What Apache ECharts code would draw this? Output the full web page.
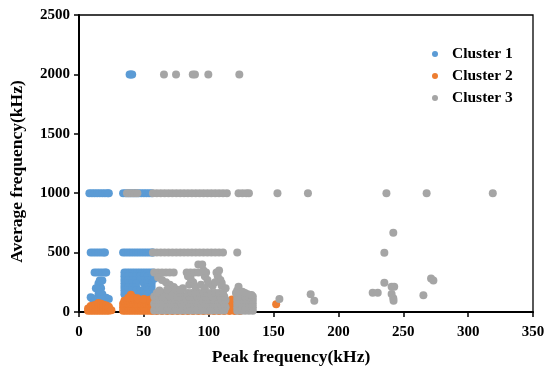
<!DOCTYPE html>
<html><head><meta charset="utf-8">
<script src="https://cdn.jsdelivr.net/npm/echarts@6/dist/echarts.min.js"></script>
<style>html,body{margin:0;padding:0;background:#fff}#c{width:550px;height:375px}</style>
</head><body><div id="c"></div>
<script>
const seriesNames = ['Cluster 1', 'Cluster 2', 'Cluster 3'];
const seriesColors = ['#5B9BD5', '#ED7D31', '#A5A5A5'];
const xTicks = [0, 50, 100, 150, 200, 250, 300, 350];
const yTicks = [0, 500, 1000, 1500, 2000, 2500];

const cluster1 = [
  [39,2000],[40,2000],[41,2000],
  [8,1000],[10,1000],[12,1000],[14,1000],[16,1000],[18,1000],[20,1000],[22,1000],[23,1000],
  [34,1000],[36,1000],[38,1000],[40,1000],[42,1000],[44,1000],[46,1000],[48,1000],[50,1000],[52,1000],[54,1000],[56,1000],
  [9,500],[11,500],[13,500],[15,500],[17,500],[19,500],[20,500],
  [34,500],[36,500],[38,500],[40,500],[42,500],[44,500],[46,500],[48,500],[50,500],[52,500],[54,500],[56,500],[57,500],
  [12,333],[14,333],[16,333],[18,333],[20,333],[21,333],
  [35,333],[37,333],[39,333],[41,333],[43,333],[45,333],[47,333],[49,333],[51,333],[53,333],[55,333],[57,333],
  [16,265],[18,265],[15,240],[16,220],[17,200],[13,200],[15,180],[16,165],[18,150],[15,145],
  [9,125],[10,115],[21,120],[23,110],[12,90],[19,95],[14,60],[17,110],
  [35,300],[38,300],[41,300],[44,300],[47,300],[50,300],[53,300],[56,300],
  [35,270],[38,270],[41,270],[44,270],[47,270],[50,270],[53,270],[56,270],
  [35,240],[38,240],[41,240],[44,240],[50,240],[53,240],[56,240],
  [35,210],[38,210],[41,210],[44,210],[53,210],[56,210],
  [35,180],[38,180],[41,180],[44,180],[47,180],[50,180],[53,180],[56,180],
  [35,150],[38,150],[41,150],[44,150],[47,150],[50,150],[53,150],[56,150],
  [36,120],[39,120],[44,120],[47,120],[50,120],[53,120],[56,120],
  [47,95],[53,95],[56,90],
  [58,280],[58,150],[58,100]
];

const cluster2 = [
  [7,10],[7,30],[9,10],[9,35],[9,50],[11,10],[11,35],[11,55],[13,10],[13,35],[13,60],
  [15,10],[15,35],[15,60],[15,75],[17,10],[17,35],[17,60],[17,70],[19,10],[19,35],[19,60],
  [21,10],[21,35],[21,55],[23,10],[23,35],[23,45],[25,15],
  [34,10],[36,10],[38,10],[40,10],[42,10],[44,10],[46,10],[48,10],[50,10],[52,10],[54,10],[56,10],[57,10],
  [34,40],[36,40],[38,40],[40,40],[42,40],[44,40],[46,40],[48,40],[50,40],[52,40],[54,40],[56,40],[57,40],
  [34,70],[36,70],[38,70],[40,70],[42,70],[44,70],[46,70],[48,70],[50,70],[52,70],[54,70],[56,70],
  [35,95],[37,100],[39,100],[41,100],[43,100],[45,100],[47,100],[49,100],[51,100],[53,98],[55,95],
  [40,145],[38,120],[42,120],[45,115],[50,110],[55,105],
  [60,8],[64,8],[68,8],[72,8],[76,8],[80,8],[84,8],[88,8],[92,8],[96,8],[100,8],[104,8],[108,8],[112,8],[116,8],[120,8],[124,8],
  [60,25],[64,25],[68,25],[72,25],[76,25],[80,25],[84,25],[88,25],[92,25],[96,25],[100,25],[104,25],[108,25],[112,25],[116,25],[120,25],[124,25],
  [117,50],[118,80],[118,105],[121,45],[115,60],
  [152,65]
];

const cluster3 = [
  [65.5,2000],[74.8,2000],[87.7,2000],[89.4,2000],[99.7,2000],[123.6,2000],
  [37,1000],[39,1000],[41,1000],[43,1000],[45,1000],
  [57,1000],[60,1000],[63,1000],[66,1000],[69,1000],[72,1000],[75,1000],[78,1000],[81,1000],[84,1000],
  [87,1000],[90,1000],[93,1000],[96,1000],[99,1000],[102,1000],[105,1000],[108,1000],[111,1000],[114,1000],
  [123,1000],[126,1000],[129,1000],[131,1000],[153,1000],[176.5,1000],[237,1000],[268,1000],[319,1000],
  [57,500],[60,500],[63,500],[66,500],[69,500],[72,500],[75,500],[78,500],[81,500],[84,500],
  [87,500],[90,500],[93,500],[96,500],[99,500],[102,500],[105,500],[108,500],[111,500],[122,500],
  [58,333],[61,333],[64,333],[67,333],[70,333],[73,333],[83,333],[86,333],[89,333],[92,333],[98,333],[106,333],
  [97,300],[99,270],[107,300],[109,270],[110,245],[96,350],[108,350],
  [92,400],[95,400],
  [61,290],[64,270],[67,250],[70,230],[73,210],
  [58,12],[61,12],[64,12],[67,12],[70,12],[73,12],[76,12],[79,12],[82,12],[85,12],[88,12],[91,12],[94,12],[97,12],[100,12],[103,12],[106,12],[109,12],[112,12],
  [59,40],[62,40],[65,40],[68,40],[71,40],[74,40],[77,40],[80,40],[83,40],[86,40],[89,40],[92,40],[95,40],[98,40],[101,40],[104,40],[107,40],[110,40],[113,40],
  [58,70],[61,70],[64,70],[67,70],[70,70],[73,70],[76,70],[79,70],[82,70],[85,70],[88,70],[91,70],[94,70],[97,70],[100,70],[103,70],[106,70],[109,70],[112,70],
  [59,100],[62,100],[65,100],[68,100],[71,100],[74,100],[77,100],[80,100],[83,100],[86,100],[89,100],[92,100],[95,100],[98,100],[101,100],[104,100],[107,100],[110,100],[113,100],
  [58,130],[61,130],[64,130],[67,130],[70,130],[73,130],[76,130],[79,130],[82,130],[85,130],[88,130],[91,130],[94,130],[97,130],[100,130],[103,130],[106,130],[109,130],[112,130],
  [60,160],[66,160],[72,160],[78,160],[84,160],[87,160],[90,160],[93,160],[96,160],[99,160],[102,160],[105,160],[108,160],[111,160],
  [75,190],[80,200],[85,230],[88,250],[90,210],[94,230],[100,240],[103,220],[105,250],[110,220],[113,200],
  [86,285],[84,300],[78,185],[62,180],[68,190],[97,200],
  [122,10],[125,10],[128,10],[131,10],[134,10],
  [122,40],[125,40],[128,40],[131,40],[134,40],
  [122,70],[125,70],[128,70],[131,70],[134,70],
  [122,100],[125,100],[128,100],[131,100],[134,100],
  [122,130],[125,130],[128,130],[131,130],[134,130],
  [122,180],[123,213],[126,170],[130,150],[133,143],[121,160],[128,160],
  [154.5,109],[178.6,149],[181.4,95],[226.4,163],[230.3,163],[235.4,499],[242.3,667],[235.4,247],
  [241,213],[243,213],[241,151],[242.3,115],[242.5,95],[265.5,140],[271.4,283],[273.2,266]
];

const clusters = [cluster1, cluster2, cluster3];
const FONT = '"Liberation Serif", "Times New Roman", serif';

const chart = echarts.init(document.getElementById('c'), null, {renderer: 'canvas'});
chart.setOption({
  animation: false,
  backgroundColor: '#fff',
  grid: {left: 79, right: 17, top: 15, bottom: 63, show: true, borderColor: '#000', borderWidth: 1.3, containLabel: false},
  legend: {
    orient: 'vertical', left: 427, top: 41,
    itemWidth: 24, itemHeight: 6, itemGap: 6,
    icon: 'circle',
    textStyle: {fontFamily: FONT, fontWeight: 'bold', fontSize: 15.5, color: '#000', lineHeight: 16},
    data: seriesNames
  },
  xAxis: {
    type: 'value', min: xTicks[0], max: xTicks[xTicks.length - 1], interval: 50,
    name: 'Peak frequency(kHz)', nameLocation: 'middle', nameGap: 36,
    nameTextStyle: {fontFamily: FONT, fontWeight: 'bold', fontSize: 17.5, color: '#000', padding: [0, 30, 0, 0]},
    axisLine: {lineStyle: {color: '#000', width: 2}},
    axisTick: {show: true, length: 5, lineStyle: {color: '#000', width: 1.5}},
    axisLabel: {fontFamily: FONT, fontWeight: 'bold', fontSize: 15, color: '#000', margin: 13, formatter: v => String(v)},
    splitLine: {show: false}
  },
  yAxis: {
    type: 'value', min: yTicks[0], max: yTicks[yTicks.length - 1], interval: 500,
    name: 'Average frequency(kHz)', nameLocation: 'middle', nameGap: 53,
    nameTextStyle: {fontFamily: FONT, fontWeight: 'bold', fontSize: 17.5, color: '#000', padding: [0, 16, 0, 0]},
    axisLine: {show: true, lineStyle: {color: '#000', width: 2}},
    axisTick: {show: true, length: 5, lineStyle: {color: '#000', width: 1.5}},
    axisLabel: {fontFamily: FONT, fontWeight: 'bold', fontSize: 15, color: '#000', margin: 9, formatter: v => String(v)},
    splitLine: {show: false}
  },
  series: clusters.map((d, i) => ({
    name: seriesNames[i], type: 'scatter', data: d, symbolSize: 8,
    itemStyle: {color: seriesColors[i], opacity: 1},
    emphasis: {disabled: true}
  }))
});
</script>
</body></html>
